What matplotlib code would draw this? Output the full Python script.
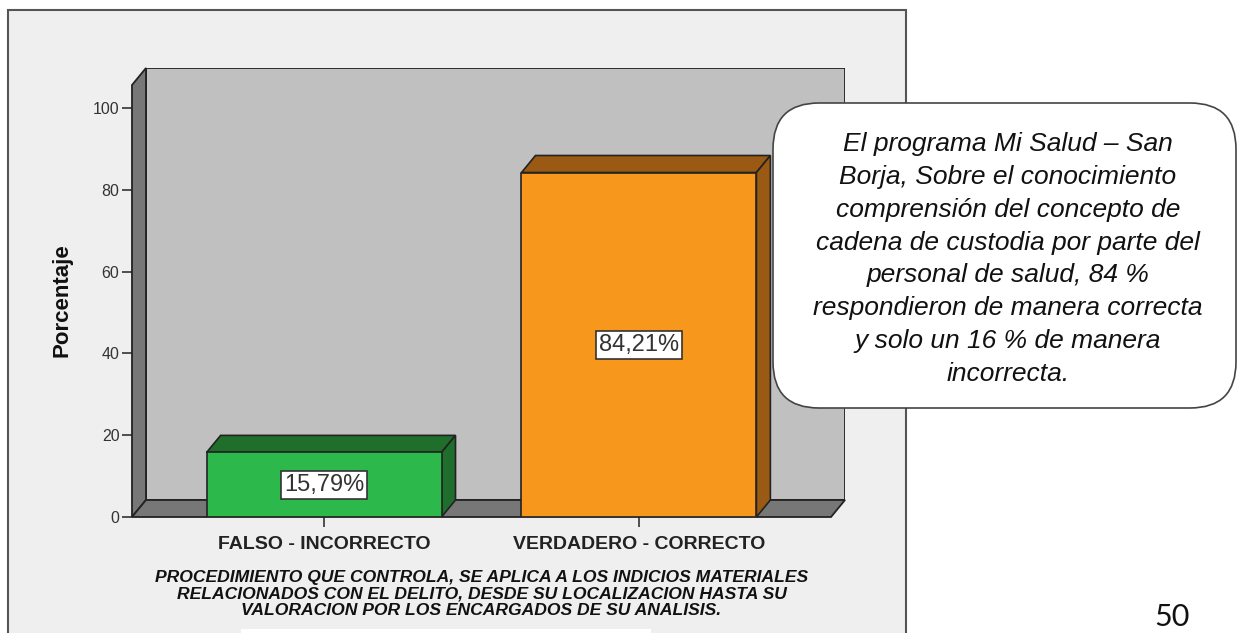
import matplotlib.pyplot as plt
from matplotlib.patches import Polygon, Rectangle, FancyBboxPatch

# data
categorias = ["FALSO - INCORRECTO", "VERDADERO - CORRECTO"]
porcentajes = [15.79, 84.21]
etiquetas = ["15,79%", "84,21%"]
y_ticks = [0, 20, 40, 60, 80, 100]
colores_frente = ["#2db84b", "#f7981d"]
colores_lado = ["#1f6e2b", "#9a5a14"]

subtitulo = ("PROCEDIMIENTO QUE CONTROLA, SE APLICA A LOS INDICIOS MATERIALES\n"
             "RELACIONADOS CON EL DELITO, DESDE SU LOCALIZACION HASTA SU\n"
             "VALORACION POR LOS ENCARGADOS DE SU ANALISIS.")
nota = ("El programa Mi Salud \u2013 San\nBorja, Sobre el conocimiento\n"
        "comprensión del concepto de\ncadena de custodia por parte del\n"
        "personal de salud, 84 %\nrespondieron de manera correcta\n"
        "y solo un 16 % de manera\nincorrecta.")

W, H = 1238, 633
plt.rcParams['font.family'] = ['Liberation Sans', 'DejaVu Sans']

fig = plt.figure(figsize=(W / 100, H / 100), dpi=100)
fig.patch.set_facecolor("white")

# background layer in pixel coordinates (chart frame)
bg = fig.add_axes([0, 0, 1, 1], zorder=-1)
bg.set_xlim(0, W)
bg.set_ylim(H, 0)
bg.axis("off")
bg.add_patch(Rectangle((8, 10), 898, 640, facecolor="#efefef",
                       edgecolor="#555555", lw=1.5))

# 3d geometry
X0, X1 = -0.61, 1.61      # floor front extent
DX, DY = 0.0444, 4.16     # depth offset
YTOP = 105.6
BAR_W = 0.746

ax_l = 132 / W
ax_b = (H - 517) / H
ax_w = (845 - 132) / W
ax_h = (517 - 68) / H
ax = fig.add_axes([ax_l, ax_b, ax_w, ax_h], zorder=1)
ax.set_xlim(X0, X1 + DX)
ax.set_ylim(0, YTOP + DY)
ax.patch.set_alpha(0)
for s in ax.spines.values():
    s.set_visible(False)

ec = "#222222"
# back wall
ax.add_patch(Rectangle((X0 + DX, DY), X1 - X0, YTOP, facecolor="#c0c0c0",
                       edgecolor=ec, lw=1.3, zorder=1))
# left wall
ax.add_patch(Polygon([(X0, 0), (X0, YTOP), (X0 + DX, YTOP + DY), (X0 + DX, DY)],
                     closed=True, facecolor="#777777", edgecolor=ec, lw=1.3,
                     zorder=2, clip_on=False))
# floor
ax.add_patch(Polygon([(X0, 0), (X1, 0), (X1 + DX, DY), (X0 + DX, DY)],
                     closed=True, facecolor="#777777", edgecolor=ec, lw=1.3,
                     zorder=2, clip_on=False))

pos = list(range(len(categorias)))
for x, v, cf, cl, lab in zip(pos, porcentajes, colores_frente, colores_lado, etiquetas):
    a, b = x - BAR_W / 2, x + BAR_W / 2
    # top and side faces
    ax.add_patch(Polygon([(a, v), (b, v), (b + DX, v + DY), (a + DX, v + DY)],
                         closed=True, facecolor=cl, edgecolor=ec, lw=1.2, zorder=3))
    ax.add_patch(Polygon([(b, 0), (b + DX, DY), (b + DX, v + DY), (b, v)],
                         closed=True, facecolor=cl, edgecolor=ec, lw=1.2, zorder=3))
    ax.bar(x, v, width=BAR_W, color=cf, edgecolor=ec, lw=1.2, zorder=4)
    ax.text(x, v / 2, lab, ha="center", va="center", fontsize=17, color="#333333",
            zorder=5, bbox=dict(boxstyle="square,pad=0.12", facecolor="white",
                                edgecolor="#333333", lw=1.2))

ax.set_yticks(y_ticks)
ax.set_yticklabels([str(t) for t in y_ticks])
ax.set_xticks(pos)
ax.set_xticklabels(categorias, fontweight="bold", fontsize=14, color="#222222")
ax.tick_params(axis="y", length=7, width=1.2, color="#333333", pad=2,
               labelsize=11.5, labelcolor="#333333")
ax.tick_params(axis="x", length=7, width=1.2, color="#333333", pad=6.5)
ax.set_ylabel("Porcentaje", fontweight="bold", fontsize=16, color="#111111")
ax.yaxis.set_label_coords(-(132 - 73) / 713, (517 - 300) / 449)

# subtitle centred under the floor
ax.text((0.5 - X0) / (X1 + DX - X0), -(570 - 517) / 449, subtitulo,
        transform=ax.transAxes, ha="center", va="top", fontsize=12.6,
        fontweight="bold", style="italic", linespacing=1.12, color="#111111")

# foreground layer: note box, page number
fg = fig.add_axes([0, 0, 1, 1], zorder=5)
fg.set_xlim(0, W)
fg.set_ylim(H, 0)
fg.axis("off")
fg.patch.set_alpha(0)
fg.add_patch(FancyBboxPatch((773, 103), 463, 305,
                            boxstyle="round,pad=0,rounding_size=46",
                            facecolor="white", edgecolor="#444444", lw=1.2))
fg.text(1008, 259, nota, ha="center", va="center", fontsize=19,
        style="italic", linespacing=1.47, color="#111111")
fg.add_patch(Rectangle((241, 629), 410, 10, facecolor="white", edgecolor="none"))
fg.text(1172, 626, "50", ha="center", va="baseline", fontsize=22,
        family=["Lato", "DejaVu Sans"], color="#111111")

fig.savefig("out.png", dpi=100)
